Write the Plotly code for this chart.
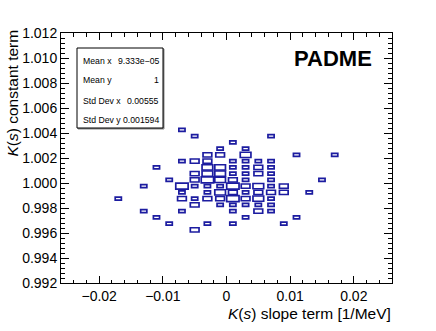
import math
import plotly.graph_objects as go

# ---- data: 2D histogram bins (centre x, centre y, content) ----
x_bin_width = 0.002
y_bin_width = 0.0005
x_centers = [
    -0.007,
    -0.005, 0.007,
    0.001,
    -0.001, 0.003,
    -0.003, -0.001, 0.003, 0.011, 0.017,
    -0.007, -0.005, -0.003, 0.001, 0.003, 0.005, 0.007,
    -0.011, -0.003, -0.001, 0.001, 0.003, 0.005, 0.007,
    -0.005, -0.003, -0.001, 0.001, 0.003, 0.005, 0.007,
    -0.009, -0.005, -0.003, -0.001, 0.001, 0.003, 0.007, 0.015,
    -0.013, -0.007, -0.005, -0.003, -0.001, 0.001, 0.003, 0.005, 0.007, 0.009,
    -0.007, -0.003, -0.001, 0.001, 0.003, 0.005, 0.007, 0.009, 0.013,
    -0.017, -0.007, -0.005, -0.003, -0.001, 0.001, 0.003, 0.005, 0.007,
    -0.005, -0.001, 0.001, 0.003, 0.005, 0.007,
    -0.013, -0.007, 0.001, 0.005, 0.007,
    -0.011, 0.003, 0.011,
    -0.009, -0.003, 0.001, 0.009,
    -0.005,
]
y_centers = (
    [1.00425] * 1 + [1.00375] * 2 + [1.00325] * 1 + [1.00275] * 2 +
    [1.00225] * 5 + [1.00175] * 7 + [1.00125] * 7 + [1.00075] * 7 +
    [1.00025] * 8 + [0.99975] * 10 + [0.99925] * 9 + [0.99875] * 9 +
    [0.99825] * 6 + [0.99775] * 5 + [0.99725] * 3 + [0.99675] * 4 +
    [0.99625] * 1
)
counts = [
    1,
    1, 1,
    1,
    1, 1,
    2, 2, 3, 1, 1,
    1, 2, 2, 1, 1, 1, 1,
    1, 3, 3, 1, 1, 2, 1,
    2, 3, 3, 1, 1, 2, 1,
    1, 2, 4, 3, 2, 1, 1, 1,
    1, 4, 1, 1, 1, 4, 2, 3, 1, 2,
    1, 1, 3, 2, 1, 2, 2, 2, 1,
    1, 2, 1, 2, 2, 4, 2, 3, 1,
    2, 1, 1, 1, 1, 1,
    1, 1, 1, 2, 1,
    1, 1, 1,
    1, 1, 1, 1,
    2,
]

x_range = [-0.026, 0.026]
y_range = [0.992, 1.012]

stats_labels = ["Mean x", "Mean y", "Std Dev x", "Std Dev y"]
stats_values = ["9.333e\u221205", "1", "0.00555", "0.001594"]

# ---- figure (body margin removed in post_script, so figure sits at (0,0)) ----
W, H = 436, 331
ml, mr, mt, mb = 61, 44, 33, 48
PX0, PX1, PY0, PY1 = ml, W - mr, mt, H - mb   # plot area in page pixels

def px_x(p):
    return (p - PX0) / (PX1 - PX0)

def px_y(p):
    return (PY1 - p) / (PY1 - PY0)

fig = go.Figure()
fig.add_trace(go.Scatter(x=[None], y=[None], mode="markers", showlegend=False, hoverinfo="skip"))

cmax = max(counts)
line_col = "rgb(28,28,160)"
shapes = []
for xc, yc, c in zip(x_centers, y_centers, counts):
    r = math.sqrt(c / cmax)
    hx = r * x_bin_width / 2 * 0.97
    hy = r * y_bin_width / 2 * 0.97
    shapes.append(dict(type="rect", xref="x", yref="y",
                       x0=xc - hx, x1=xc + hx, y0=yc - hy, y1=yc + hy,
                       line=dict(color=line_col, width=1.7),
                       fillcolor="rgba(0,0,0,0)"))

# stats box
shapes.append(dict(type="rect", xref="paper", yref="paper",
                   x0=px_x(78), x1=px_x(164), y0=px_y(129), y1=px_y(49),
                   line=dict(color="#888888", width=1), fillcolor="#888888", layer="above"))
shapes.append(dict(type="rect", xref="paper", yref="paper",
                   x0=px_x(77), x1=px_x(163), y0=px_y(128), y1=px_y(48),
                   line=dict(color="black", width=1), fillcolor="white", layer="above"))

font = "Liberation Sans, Arial, Helvetica, sans-serif"
annotations = []
row_y = [61, 80.5, 100.5, 119.5]
for lab, val, yy in zip(stats_labels, stats_values, row_y):
    annotations.append(dict(text=lab, xref="paper", yref="paper", x=px_x(80.5), y=px_y(yy),
                            xanchor="left", yanchor="middle", showarrow=False,
                            font=dict(family=font, size=8.7, color="black")))
    annotations.append(dict(text=val, xref="paper", yref="paper", x=px_x(161), y=px_y(yy),
                            xanchor="right", yanchor="middle", showarrow=False,
                            font=dict(family=font, size=8.7, color="black")))

annotations.append(dict(text="<b>PADME</b>", xref="paper", yref="paper", x=px_x(333), y=px_y(58.5),
                        xanchor="center", yanchor="middle", showarrow=False,
                        font=dict(family=font, size=22, color="black")))
annotations.append(dict(text="<i>K</i>(<i>s</i>) slope term [1/MeV]", xref="paper", yref="paper",
                        x=px_x(393), y=px_y(313), xanchor="right", yanchor="middle", showarrow=False,
                        font=dict(family=font, size=15.5, color="black")))
annotations.append(dict(text="<i>K</i>(<i>s</i>) constant term", xref="paper", yref="paper",
                        x=px_x(12), y=px_y(28), xanchor="center", yanchor="top", showarrow=False,
                        textangle=-90, font=dict(family=font, size=15.5, color="black")))

fig.update_layout(
    width=W, height=H,
    margin=dict(l=ml, r=mr, t=mt, b=mb, pad=0),
    paper_bgcolor="white", plot_bgcolor="white",
    showlegend=False,
    shapes=shapes, annotations=annotations,
    font=dict(family=font, size=14, color="black"),
)
fig.update_xaxes(range=x_range, showgrid=False, zeroline=False,
                 showline=True, linecolor="black", linewidth=1, mirror="ticks",
                 ticks="inside", ticklen=7, tickcolor="black", tickwidth=1,
                 tick0=0, dtick=0.01,
                 minor=dict(ticks="inside", ticklen=3.5, dtick=0.002, tick0=0, tickcolor="black"),
                 tickfont=dict(family=font, size=14, color="black"))
fig.update_yaxes(range=y_range, showgrid=False, zeroline=False,
                 showline=True, linecolor="black", linewidth=1, mirror="ticks",
                 ticks="inside", ticklen=8, tickcolor="black", tickwidth=1,
                 tick0=0.992, dtick=0.002, tickformat=".3f",
                 minor=dict(ticks="inside", ticklen=4, dtick=0.0004, tick0=0.992, tickcolor="black"),
                 tickfont=dict(family=font, size=14, color="black"))

fig.write_html("out.html",
               config={"displayModeBar": False, "staticPlot": True},
               post_script="document.body.style.margin='0';document.body.style.padding='0';")
